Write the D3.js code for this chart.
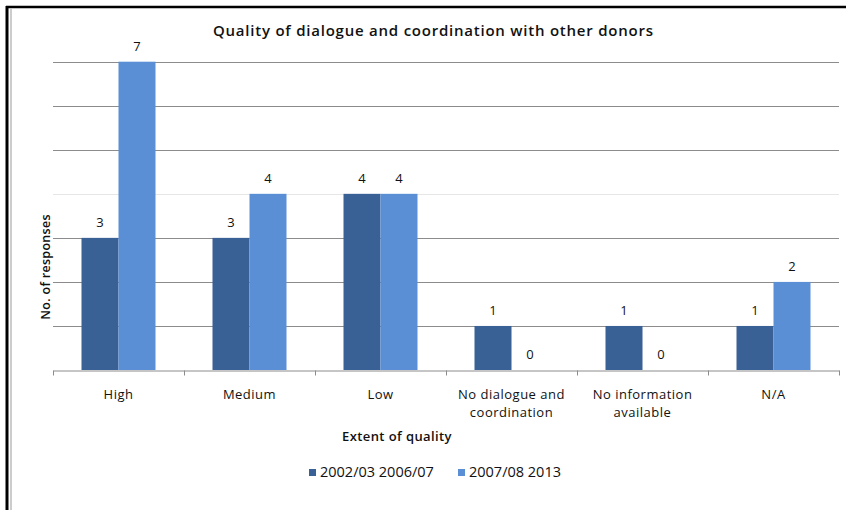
<!DOCTYPE html>
<html>
<head>
<meta charset="utf-8">
<script src="https://cdn.jsdelivr.net/npm/d3@7"></script>
<style>
  html, body { margin: 0; padding: 0; background: #fff; }
  svg { display: block; }
  text { font-family: "Open Sans", Lato, sans-serif; fill: #111; }
</style>
</head>
<body>
<svg id="chart" width="846" height="510"></svg>
<script>
const categories = [["High"], ["Medium"], ["Low"], ["No dialogue and", "coordination"], ["No information", "available"], ["N/A"]];
const seriesNames = ["2002/03 2006/07", "2007/08 2013"];
const series1 = [3, 3, 4, 1, 1, 1];
const series2 = [7, 4, 4, 0, 0, 2];
const yTicks = [0, 1, 2, 3, 4, 5, 6, 7];
const colors = ["#3A6196", "#5B8FD5"];

const svg = d3.select("#chart");
const W = 846, H = 510;
const x0 = 53, x1 = 839, yTop = 61.7, yBase = 370;

// frame
svg.append("line").attr("x1", 7).attr("x2", 7).attr("y1", 6).attr("y2", H).attr("stroke", "#000").attr("stroke-width", 3);
svg.append("line").attr("x1", 11).attr("x2", 11).attr("y1", 9).attr("y2", H).attr("stroke", "#999").attr("stroke-width", 1);
svg.append("line").attr("x1", 6).attr("x2", W).attr("y1", 7).attr("y2", 7).attr("stroke", "#000").attr("stroke-width", 2.5);

const keys = categories.map((c, i) => i);
const x = d3.scaleBand().domain(keys).range([x0, x1]).paddingInner(0).paddingOuter(0);
const barW = 37;
const y = d3.scaleLinear().domain([0, 7]).range([yBase, yTop]);

// gridlines
svg.append("g").selectAll("line").data(yTicks.filter(d => d > 0)).join("line")
  .attr("x1", x0).attr("x2", x1)
  .attr("y1", d => Math.round(y(d)) + 0.5).attr("y2", d => Math.round(y(d)) + 0.5)
  .attr("stroke", d => d === 4 ? "#e6e6e6" : "#8c8c8c").attr("stroke-width", 1);

// x axis
const xAxis = d3.axisBottom(x).tickValues([]).tickSize(0).tickSizeOuter(0);
const gx = svg.append("g").attr("transform", `translate(0,${Math.round(yBase) + 0.5})`).call(xAxis);
gx.select(".domain").attr("stroke", "#8c8c8c");
const boundaries = d3.range(categories.length + 1).map(i => x0 + i * x.bandwidth());
gx.selectAll("line.bt").data(boundaries).join("line").attr("class", "bt")
  .attr("x1", d => Math.round(d) + 0.5).attr("x2", d => Math.round(d) + 0.5)
  .attr("y1", 0).attr("y2", 5).attr("stroke", "#8c8c8c");

// bars
const seriesAll = [series1, series2];
seriesAll.forEach((vals, s) => {
  const g = svg.append("g");
  g.selectAll("rect").data(vals).join("rect")
    .attr("x", (d, i) => x(i) + x.bandwidth() / 2 - barW + s * barW)
    .attr("width", barW)
    .attr("y", d => y(d))
    .attr("height", d => yBase - y(d))
    .attr("fill", colors[s]);
  g.selectAll("text").data(vals).join("text")
    .attr("x", (d, i) => x(i) + x.bandwidth() / 2 - barW / 2 + s * barW)
    .attr("y", d => y(d) - 11)
    .attr("text-anchor", "middle")
    .attr("font-size", 13)
    .text(d => d);
});

// category labels
const cl = svg.append("g").selectAll("text").data(categories).join("text")
  .attr("x", (d, i) => x(i) + x.bandwidth() / 2)
  .attr("y", 399)
  .attr("text-anchor", "middle")
  .attr("font-size", 13)
  .attr("letter-spacing", 0.5);
cl.selectAll("tspan").data(d => d).join("tspan")
  .attr("x", function () { return d3.select(this.parentNode).attr("x"); })
  .attr("dy", (d, j) => j === 0 ? 0 : 18)
  .text(d => d);

// title
svg.append("text").attr("x", 433).attr("y", 36).attr("text-anchor", "middle")
  .attr("font-size", 15).attr("font-weight", 600)
  .attr("textLength", 440).attr("lengthAdjust", "spacing")
  .text("Quality of dialogue and coordination with other donors");

// axis titles
svg.append("text").attr("x", 397).attr("y", 441).attr("text-anchor", "middle")
  .attr("font-size", 13).attr("font-weight", 600).attr("letter-spacing", 0.4).text("Extent of quality");
svg.append("text").attr("transform", "translate(50,267) rotate(-90)").attr("text-anchor", "middle")
  .attr("font-size", 12.5).attr("font-weight", 600).attr("letter-spacing", 0.3).text("No. of responses");

// legend
const legendX = [309, 458];
const lg = svg.append("g").selectAll("g").data(seriesNames).join("g")
  .attr("transform", (d, i) => `translate(${legendX[i]},472)`);
lg.append("rect").attr("x", 0).attr("y", -3).attr("width", 7).attr("height", 7).attr("fill", (d, i) => colors[i]);
lg.append("text").attr("x", 11).attr("y", 5).attr("font-size", 14.5).text(d => d);
</script>
</body>
</html>
